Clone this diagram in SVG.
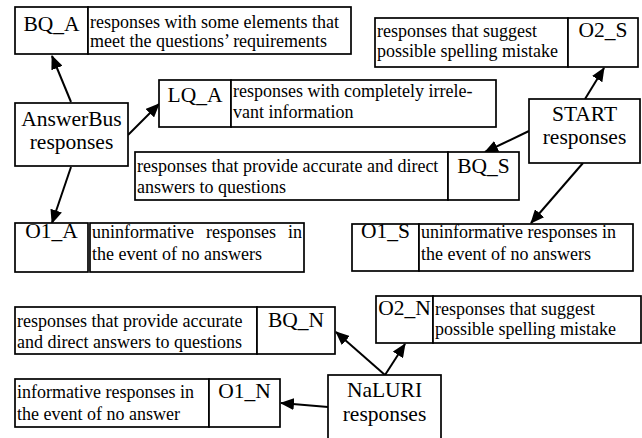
<svg xmlns="http://www.w3.org/2000/svg" width="642" height="438" viewBox="0 0 642 438">
<style>
rect{fill:#fff;stroke:#000;stroke-width:1.7}
text{font-family:"Liberation Serif","Times New Roman",serif;fill:#000}
.lb{font-size:21.5px;text-anchor:middle}
.ds{font-size:18px}
.cn{stroke:#000;stroke-width:2;fill:none;marker-end:url(#ah)}
</style>
<defs>
<marker id="ah" viewBox="0 0 14 12" refX="13" refY="6" markerWidth="14" markerHeight="12" orient="auto" markerUnits="userSpaceOnUse"><path d="M0,0 L14,6 L0,12 z" fill="#000"/></marker>
</defs>
<rect x="0" y="0" width="642" height="438" style="fill:#fff;stroke:none"/>
<g id="connectors">
<line class="cn" x1="71" y1="102" x2="52" y2="56"/>
<line class="cn" x1="128" y1="135" x2="159" y2="104"/>
<line class="cn" x1="71" y1="167" x2="52" y2="223"/>
<line class="cn" x1="585" y1="99" x2="604" y2="68"/>
<line class="cn" x1="529" y1="131" x2="485" y2="152"/>
<line class="cn" x1="583" y1="163" x2="531" y2="223"/>
<line class="cn" x1="385" y1="375" x2="336" y2="332"/>
<line class="cn" x1="385" y1="375" x2="405" y2="344"/>
<line class="cn" x1="328" y1="407" x2="281" y2="403"/>
</g>
<g id="BQ_A">
<rect x="15" y="7" width="73" height="47"/>
<rect x="88" y="7" width="263" height="47"/>
<text class="lb" x="51.5" y="31">BQ_A</text>
<text class="ds" x="90" y="28">responses with some elements that</text>
<text class="ds" x="90" y="47">meet the questions’ requirements</text>
</g>
<g id="LQ_A">
<rect x="159" y="80" width="72" height="47"/>
<rect x="231" y="80" width="265" height="47"/>
<text class="lb" x="195" y="102">LQ_A</text>
<text class="ds" x="233" y="97">responses with completely irrele-</text>
<text class="ds" x="233" y="118">vant information</text>
</g>
<g id="AnswerBus">
<rect x="15" y="103" width="113" height="63"/>
<text class="lb" x="71.5" y="126">AnswerBus</text>
<text class="lb" x="71.5" y="149">responses</text>
</g>
<g id="O2_S">
<rect x="375" y="18" width="193" height="49"/>
<rect x="568" y="18" width="70" height="49"/>
<text class="ds" x="377" y="37">responses that suggest</text>
<text class="ds" x="377" y="57">possible spelling mistake</text>
<text class="lb" x="603" y="37">O2_S</text>
</g>
<g id="START">
<rect x="529" y="99" width="111" height="64"/>
<text class="lb" x="584.5" y="121">START</text>
<text class="lb" x="584.5" y="144">responses</text>
</g>
<g id="BQ_S">
<rect x="135" y="152" width="313" height="48"/>
<rect x="448" y="152" width="71" height="48"/>
<text class="ds" x="137" y="172">responses that provide accurate and direct</text>
<text class="ds" x="137" y="193">answers to questions</text>
<text class="lb" x="483.5" y="173">BQ_S</text>
</g>
<g id="O1_A">
<rect x="15" y="223" width="73" height="49"/>
<rect x="90" y="223" width="214" height="49"/>
<text class="lb" x="51.5" y="238">O1_A</text>
<text class="ds" y="238"><tspan x="92">uninformative</tspan> <tspan x="206">responses</tspan> <tspan x="288">in</tspan></text>
<text class="ds" x="92" y="260">the event of no answers</text>
</g>
<g id="O1_S">
<rect x="352" y="224" width="67" height="47"/>
<rect x="419" y="224" width="214" height="47"/>
<text class="lb" x="385.5" y="238">O1_S</text>
<text class="ds" x="421" y="238">uninformative responses in</text>
<text class="ds" x="421" y="260">the event of no answers</text>
</g>
<g id="BQ_N">
<rect x="15" y="307" width="242" height="47"/>
<rect x="257" y="307" width="78" height="47"/>
<text class="ds" x="17" y="327">responses that provide accurate</text>
<text class="ds" x="17" y="348">and direct answers to questions</text>
<text class="lb" x="296" y="327">BQ_N</text>
</g>
<g id="O1_N">
<rect x="15" y="379" width="194" height="48"/>
<rect x="209" y="379" width="71" height="48"/>
<text class="ds" x="17" y="398">informative responses in</text>
<text class="ds" x="17" y="420">the event of no answer</text>
<text class="lb" x="244.5" y="398">O1_N</text>
</g>
<g id="O2_N">
<rect x="376" y="296" width="57" height="47"/>
<rect x="433" y="296" width="208" height="47"/>
<text class="lb" x="404.5" y="315">O2_N</text>
<text class="ds" x="435" y="315">responses that suggest</text>
<text class="ds" x="435" y="335">possible spelling mistake</text>
</g>
<g id="NaLURI">
<rect x="328" y="375" width="113" height="70"/>
<text class="lb" x="384.5" y="397">NaLURI</text>
<text class="lb" x="384.5" y="421">responses</text>
</g>
</svg>
